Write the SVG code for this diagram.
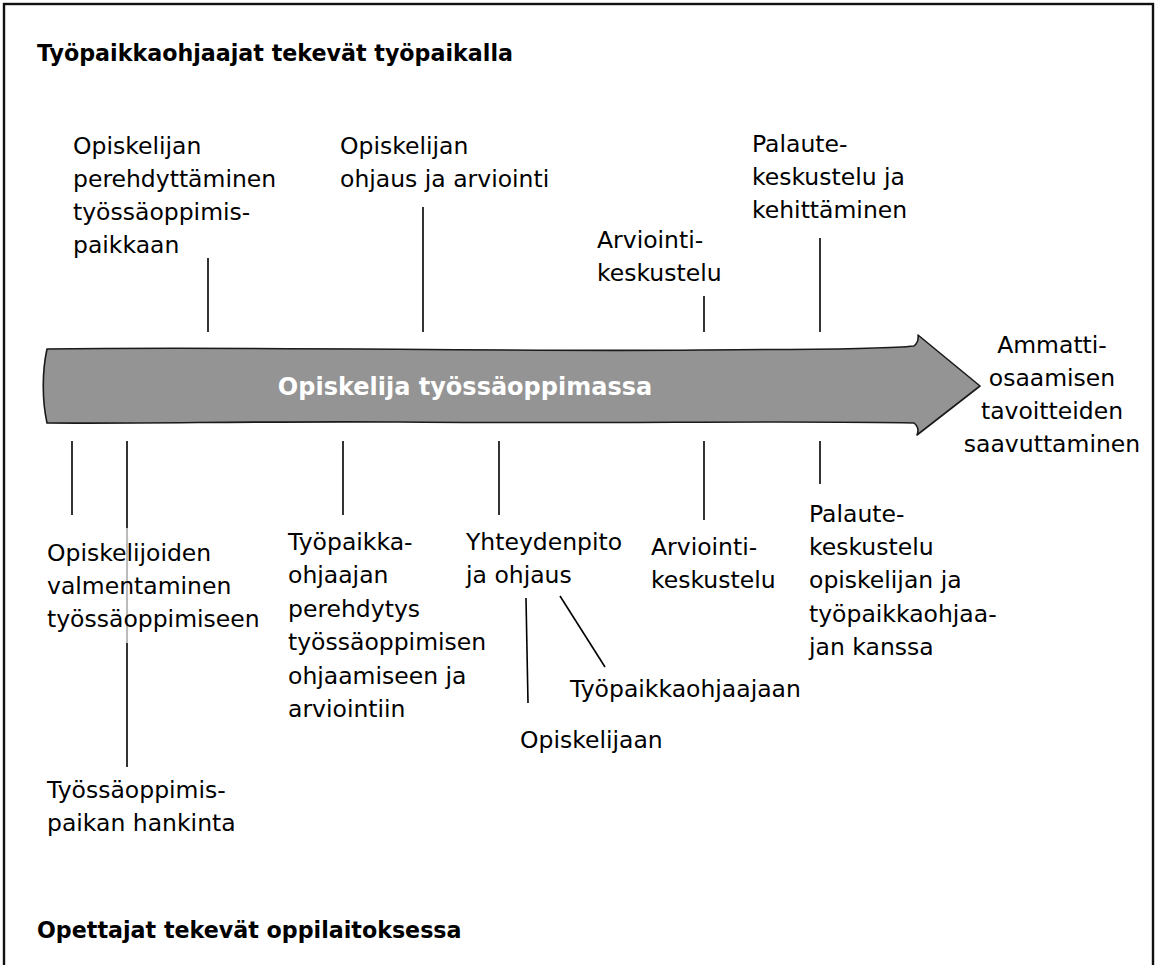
<svg xmlns="http://www.w3.org/2000/svg" width="1158" height="965" viewBox="0 0 1158 965">
<style>
.t{font-family:"DejaVu Sans","Liberation Sans",sans-serif;font-size:23.5px;fill:#000}
.h{font-family:"DejaVu Sans","Liberation Sans",sans-serif;font-size:22.2px;font-weight:bold;fill:#000}
.c{stroke:#000;stroke-width:1.6;fill:none}
</style>
<rect x="0" y="0" width="1158" height="965" fill="#fff"/>
<rect id="frame" x="4" y="4" width="1149" height="975" fill="none" stroke="#111" stroke-width="2.4"/>
<g id="header-top"><text class="h" x="37" y="61">Työpaikkaohjaajat tekevät työpaikalla</text></g>
<g id="header-bottom"><text class="h" x="37" y="938">Opettajat tekevät oppilaitoksessa</text></g>
<g id="arrow">
<path d="M 47,349 C 250,346 500,352 700,350 C 800,349 880,350 914,346 Q 919,342 918,335 L 980,386 L 917,435 Q 920,428 914,423 C 800,420 600,424 400,422 C 250,421 150,424 47,423 C 42,400 42,372 47,349 Z" fill="#949494" stroke="#1a1a1a" stroke-width="1.6" stroke-linejoin="round"/>
<text x="465" y="395" text-anchor="middle" font-family="DejaVu Sans, sans-serif" font-size="24" font-weight="bold" fill="#fff">Opiskelija työssäoppimassa</text>
</g>
<g id="connectors">
<line class="c" x1="208" y1="258" x2="208" y2="332"/>
<line class="c" x1="423" y1="207" x2="423" y2="332"/>
<line class="c" x1="704" y1="296" x2="704" y2="332"/>
<line class="c" x1="820" y1="238" x2="820" y2="332"/>
<line class="c" x1="72" y1="441" x2="72" y2="515"/>
<line class="c" x1="127" y1="441" x2="127" y2="528"/>
<line x1="127" y1="528" x2="127" y2="643" stroke="#aaa" stroke-width="1.6"/>
<line class="c" x1="127" y1="643" x2="127" y2="767"/>
<line class="c" x1="343" y1="441" x2="343" y2="515"/>
<line class="c" x1="499" y1="441" x2="499" y2="515"/>
<line class="c" x1="526" y1="598" x2="528" y2="703"/>
<line class="c" x1="560" y1="596" x2="605" y2="667"/>
<line class="c" x1="704" y1="441" x2="704" y2="520"/>
<line class="c" x1="820" y1="441" x2="820" y2="484"/>
</g>
<g id="n-perehdyttaminen"><text class="t" x="73" y="154">Opiskelijan</text><text class="t" x="73" y="187">perehdyttäminen</text><text class="t" x="73" y="220">työssäoppimis-</text><text class="t" x="73" y="253">paikkaan</text></g>
<g id="n-ohjaus-arviointi"><text class="t" x="340" y="154">Opiskelijan</text><text class="t" x="340" y="187">ohjaus ja arviointi</text></g>
<g id="n-arviointi-top"><text class="t" x="597" y="248">Arviointi-</text><text class="t" x="597" y="281">keskustelu</text></g>
<g id="n-palaute-top"><text class="t" x="752" y="152">Palaute-</text><text class="t" x="752" y="185">keskustelu ja</text><text class="t" x="752" y="218">kehittäminen</text></g>
<g id="n-goal"><text class="t" x="1052" y="353" text-anchor="middle">Ammatti-</text><text class="t" x="1052" y="386" text-anchor="middle">osaamisen</text><text class="t" x="1052" y="419" text-anchor="middle">tavoitteiden</text><text class="t" x="1052" y="452" text-anchor="middle">saavuttaminen</text></g>
<g id="n-valmentaminen"><text class="t" x="47" y="561">Opiskelijoiden</text><text class="t" x="47" y="594">valmentaminen</text><text class="t" x="47" y="627">työssäoppimiseen</text></g>
<g id="n-hankinta"><text class="t" x="47" y="798">Työssäoppimis-</text><text class="t" x="47" y="831">paikan hankinta</text></g>
<g id="n-perehdytys"><text class="t" x="288" y="550">Työpaikka-</text><text class="t" x="288" y="583">ohjaajan</text><text class="t" x="288" y="617">perehdytys</text><text class="t" x="288" y="650">työssäoppimisen</text><text class="t" x="288" y="684">ohjaamiseen ja</text><text class="t" x="288" y="717">arviointiin</text></g>
<g id="n-yhteydenpito"><text class="t" x="466" y="550">Yhteydenpito</text><text class="t" x="466" y="583">ja ohjaus</text></g>
<g id="n-opiskelijaan"><text class="t" x="520" y="748">Opiskelijaan</text></g>
<g id="n-tyopaikkaohjaajaan"><text class="t" x="570" y="697">Työpaikkaohjaajaan</text></g>
<g id="n-arviointi-bottom"><text class="t" x="651" y="555">Arviointi-</text><text class="t" x="651" y="588">keskustelu</text></g>
<g id="n-palaute-bottom"><text class="t" x="809" y="522">Palaute-</text><text class="t" x="809" y="555">keskustelu</text><text class="t" x="809" y="588">opiskelijan ja</text><text class="t" x="809" y="622">työpaikkaohjaa-</text><text class="t" x="809" y="655">jan kanssa</text></g>
</svg>
